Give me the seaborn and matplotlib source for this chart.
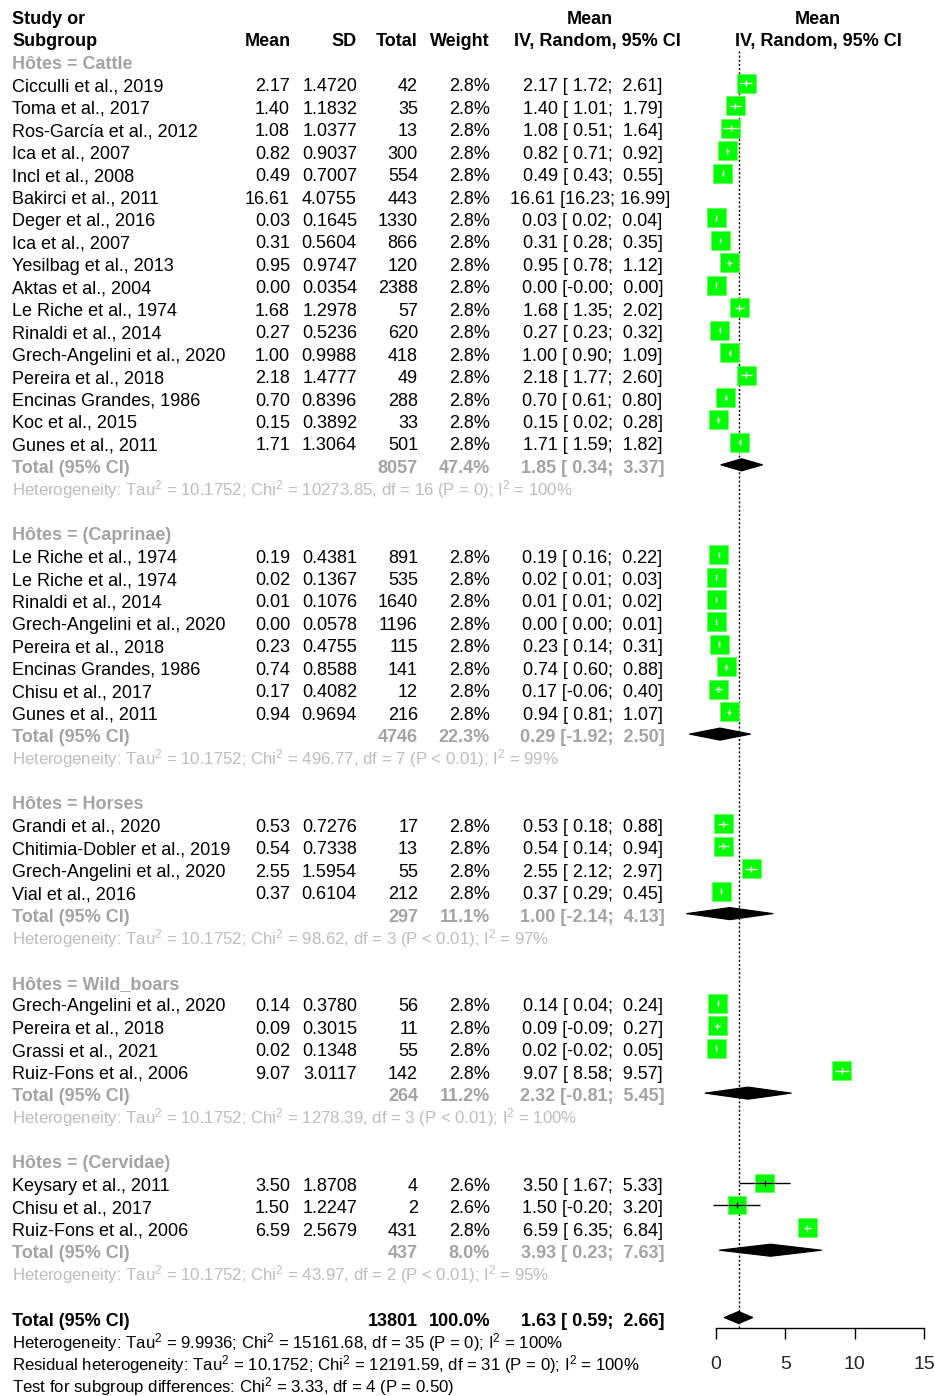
import numpy as np
import pandas as pd
import matplotlib
matplotlib.use("Agg")
import matplotlib.pyplot as plt
import seaborn as sns
from matplotlib.patches import Polygon

sns.set_theme(style="white")
plt.rcParams['font.family'] = ['Liberation Sans', 'DejaVu Sans']
plt.rcParams['mathtext.fontset'] = 'custom'
plt.rcParams['mathtext.rm'] = 'Liberation Sans'
plt.rcParams['mathtext.it'] = 'Liberation Sans:italic'
plt.rcParams['mathtext.bf'] = 'Liberation Sans:bold'
plt.rcParams['mathtext.default'] = 'regular'

# ---------------- data ----------------
groups = ['Cattle', '(Caprinae)', 'Horses', 'Wild_boars', '(Cervidae)']

study = ['Cicculli et al., 2019', 'Toma et al., 2017', 'Ros-García et al., 2012', 'Ica et al., 2007',
         'Incl et al., 2008', 'Bakirci et al., 2011', 'Deger et al., 2016', 'Ica et al., 2007',
         'Yesilbag et al., 2013', 'Aktas et al., 2004', 'Le Riche et al., 1974', 'Rinaldi et al., 2014',
         'Grech-Angelini et al., 2020', 'Pereira et al., 2018', 'Encinas Grandes, 1986', 'Koc et al., 2015',
         'Gunes et al., 2011',
         'Le Riche et al., 1974', 'Le Riche et al., 1974', 'Rinaldi et al., 2014', 'Grech-Angelini et al., 2020',
         'Pereira et al., 2018', 'Encinas Grandes, 1986', 'Chisu et al., 2017', 'Gunes et al., 2011',
         'Grandi et al., 2020', 'Chitimia-Dobler et al., 2019', 'Grech-Angelini et al., 2020', 'Vial et al., 2016',
         'Grech-Angelini et al., 2020', 'Pereira et al., 2018', 'Grassi et al., 2021', 'Ruiz-Fons et al., 2006',
         'Keysary et al., 2011', 'Chisu et al., 2017', 'Ruiz-Fons et al., 2006']
group = ['Cattle'] * 17 + ['(Caprinae)'] * 8 + ['Horses'] * 4 + ['Wild_boars'] * 4 + ['(Cervidae)'] * 3
mean = [2.17, 1.40, 1.08, 0.82, 0.49, 16.61, 0.03, 0.31, 0.95, 0.00, 1.68, 0.27, 1.00, 2.18, 0.70, 0.15, 1.71,
        0.19, 0.02, 0.01, 0.00, 0.23, 0.74, 0.17, 0.94,
        0.53, 0.54, 2.55, 0.37,
        0.14, 0.09, 0.02, 9.07,
        3.50, 1.50, 6.59]
sd = ['1.4720', '1.1832', '1.0377', '0.9037', '0.7007', '4.0755', '0.1645', '0.5604', '0.9747', '0.0354',
      '1.2978', '0.5236', '0.9988', '1.4777', '0.8396', '0.3892', '1.3064',
      '0.4381', '0.1367', '0.1076', '0.0578', '0.4755', '0.8588', '0.4082', '0.9694',
      '0.7276', '0.7338', '1.5954', '0.6104',
      '0.3780', '0.3015', '0.1348', '3.0117',
      '1.8708', '1.2247', '2.5679']
total = [42, 35, 13, 300, 554, 443, 1330, 866, 120, 2388, 57, 620, 418, 49, 288, 33, 501,
         891, 535, 1640, 1196, 115, 141, 12, 216,
         17, 13, 55, 212,
         56, 11, 55, 142,
         4, 2, 431]
weight = [2.8] * 33 + [2.6, 2.6, 2.8]
lower = [1.72, 1.01, 0.51, 0.71, 0.43, 16.23, 0.02, 0.28, 0.78, -0.0, 1.35, 0.23, 0.90, 1.77, 0.61, 0.02, 1.59,
         0.16, 0.01, 0.01, 0.00, 0.14, 0.60, -0.06, 0.81,
         0.18, 0.14, 2.12, 0.29,
         0.04, -0.09, -0.02, 8.58,
         1.67, -0.20, 6.35]
upper = [2.61, 1.79, 1.64, 0.92, 0.55, 16.99, 0.04, 0.35, 1.12, 0.00, 2.02, 0.32, 1.09, 2.60, 0.80, 0.28, 1.82,
         0.22, 0.03, 0.02, 0.01, 0.31, 0.88, 0.40, 1.07,
         0.88, 0.94, 2.97, 0.45,
         0.24, 0.27, 0.05, 9.57,
         5.33, 3.20, 6.84]

sub_total = [8057, 4746, 297, 264, 437]
sub_weight = [47.4, 22.3, 11.1, 11.2, 8.0]
sub_est = [1.85, 0.29, 1.00, 2.32, 3.93]
sub_lower = [0.34, -1.92, -2.14, -0.81, 0.23]
sub_upper = [3.37, 2.50, 4.13, 5.45, 7.63]
sub_het = [r'Heterogeneity: Tau$^2$ = 10.1752; Chi$^2$ = 10273.85, df = 16 (P = 0); I$^2$ = 100%',
           r'Heterogeneity: Tau$^2$ = 10.1752; Chi$^2$ = 496.77, df = 7 (P < 0.01); I$^2$ = 99%',
           r'Heterogeneity: Tau$^2$ = 10.1752; Chi$^2$ = 98.62, df = 3 (P < 0.01); I$^2$ = 97%',
           r'Heterogeneity: Tau$^2$ = 10.1752; Chi$^2$ = 1278.39, df = 3 (P < 0.01); I$^2$ = 100%',
           r'Heterogeneity: Tau$^2$ = 10.1752; Chi$^2$ = 43.97, df = 2 (P < 0.01); I$^2$ = 95%']

overall_total = 13801
overall_weight = 100.0
overall_est = 1.63
overall_lower = 0.59
overall_upper = 2.66
overall_text = [r'Heterogeneity: Tau$^2$ = 9.9936; Chi$^2$ = 15161.68, df = 35 (P = 0); I$^2$ = 100%',
                r'Residual heterogeneity: Tau$^2$ = 10.1752; Chi$^2$ = 12191.59, df = 31 (P = 0); I$^2$ = 100%',
                r'Test for subgroup differences: Chi$^2$ = 3.33, df = 4 (P = 0.50)']
x_ticks = [0, 5, 10, 15]

# ---------------- layout ----------------
W, H = 935, 1396
ROW0, ROWH = 60.9, 22.44          # pixel centre of row 0, row height


def row_of(px):
    return (px - ROW0) / ROWH


df = pd.DataFrame(dict(study=study, group=group, mean=mean, sd=sd, total=total,
                       weight=weight, lower=lower, upper=upper))

rows = []
hdr_rows, tot_rows, het_rows = [], [], []
r = 0
for g in groups:
    hdr_rows.append(r)
    r += 1
    n = int((df['group'] == g).sum())
    rows += list(range(r, r + n))
    r += n
    tot_rows.append(r)
    het_rows.append(r + 1)
    r += 3
overall_row = r
df['row'] = rows


def ci_str(e, lo, hi):
    return f"{e:5.2f} [{lo:5.2f}; {hi:5.2f}]"


fig = plt.figure(figsize=(W / 100, H / 100), dpi=100)

axt = fig.add_axes([0, 0, 1, 1])
axt.set_xlim(0, W)
axt.set_ylim(row_of(H), row_of(0))
axt.axis('off')

FS = 13
FS_HET = 12.1
GRAY = '#A3A3A3'
LGRAY = '#BDBDBD'
BL = 8.0 / ROWH
X_STUDY, X_MEAN, X_SD, X_TOT, X_W, X_CI = 12, 290, 357, 418, 490, 590


def txt(x, rr, s, ha='left', color='black', bold=False, fs=FS):
    axt.text(x, rr + BL, s, ha=ha, va='baseline', color=color, fontsize=fs,
             fontweight='bold' if bold else 'normal')


txt(X_STUDY, -2, 'Study or', bold=True)
txt(X_STUDY, -1, 'Subgroup', bold=True)
txt(X_MEAN + 1, -1, 'Mean', ha='right', bold=True)
txt(X_SD, -1, 'SD', ha='right', bold=True)
txt(X_TOT, -1, 'Total', ha='right', bold=True)
txt(X_W, -1, 'Weight', ha='right', bold=True)
txt(590, -2, 'Mean', ha='center', bold=True)
txt(597, -1, 'IV, Random, 95% CI', ha='center', bold=True)
txt(818, -2, 'Mean', ha='center', bold=True)
txt(818, -1, 'IV, Random, 95% CI', ha='center', bold=True)

for i, g in enumerate(groups):
    txt(X_STUDY, hdr_rows[i], f'Hôtes = {g}', color=GRAY, bold=True)
    rr = tot_rows[i]
    txt(X_STUDY, rr, 'Total (95% CI)', color=GRAY, bold=True)
    txt(X_TOT, rr, f'{sub_total[i]}', ha='right', color=GRAY, bold=True)
    txt(X_W, rr, f'{sub_weight[i]:.1f}%', ha='right', color=GRAY, bold=True)
    txt(X_CI, rr, ci_str(sub_est[i], sub_lower[i], sub_upper[i]), ha='center', color=GRAY, bold=True)
    txt(X_STUDY, het_rows[i], sub_het[i], color=LGRAY, fs=FS_HET)

for _, d in df.iterrows():
    rr = d['row']
    txt(X_STUDY, rr, d['study'])
    txt(X_MEAN, rr, f"{d['mean']:.2f}", ha='right')
    txt(X_SD, rr, d['sd'], ha='right')
    txt(X_TOT, rr, f"{d['total']}", ha='right')
    txt(X_W, rr, f"{d['weight']:.1f}%", ha='right')
    txt(X_CI, rr, ci_str(d['mean'], d['lower'], d['upper']), ha='center')

txt(X_STUDY, overall_row, 'Total (95% CI)', bold=True)
txt(X_TOT, overall_row, f'{overall_total}', ha='right', bold=True)
txt(X_W, overall_row, f'{overall_weight:.1f}%', ha='right', bold=True)
txt(X_CI, overall_row, ci_str(overall_est, overall_lower, overall_upper), ha='center', bold=True)
for k, s in enumerate(overall_text):
    txt(X_STUDY, overall_row + 1 + k, s, fs=FS_HET)

# ---------------- forest axes ----------------
AX_L, AX_R, AX_T, AX_B = 680, 935, 50, 1328
PX_PER_UNIT = (924 - 716) / 15.0
X0 = 716
axf = fig.add_axes([AX_L / W, 1 - AX_B / H, (AX_R - AX_L) / W, (AX_B - AX_T) / H])

axf.axvline(overall_est, color='black', linestyle=(0, (1.5, 1.5)), linewidth=1.0, zorder=0)

GREEN = '#00FF00'
side_px = 19.0 * np.sqrt(df['weight'] / 2.8)
sizes = (side_px * 0.72) ** 2
half_units = side_px / 2 / PX_PER_UNIT

axf.hlines(df['row'], df['lower'], df['upper'], color='black', linewidth=1.0, zorder=2)
sns.scatterplot(x=df['mean'], y=df['row'], marker='s', s=sizes, color=GREEN,
                edgecolor='#66FF66', linewidth=0.6, ax=axf, legend=False, zorder=3)
inner_lo = np.maximum(df['lower'], df['mean'] - half_units)
inner_hi = np.minimum(df['upper'], df['mean'] + half_units)
axf.hlines(df['row'], inner_lo, inner_hi, color='white', linewidth=1.0, zorder=4)
axf.vlines(df['mean'], df['row'] - 0.13, df['row'] + 0.13, color='white', linewidth=1.0, zorder=4)
wide = (df['upper'] - df['lower']) > 2 * half_units
axf.vlines(df['mean'][wide], df['row'][wide] - 0.13, df['row'][wide] + 0.13, color='black',
           linewidth=1.0, zorder=5)
axf.hlines(df['row'][wide], inner_lo[wide], inner_hi[wide], color='black', linewidth=1.0, zorder=5)

DH = 0.27
for i in range(len(groups)):
    rr = tot_rows[i]
    poly = Polygon([(sub_lower[i], rr), (sub_est[i], rr - DH), (sub_upper[i], rr), (sub_est[i], rr + DH)],
                   closed=True, facecolor='black', edgecolor='black', linewidth=0.8, zorder=3)
    axf.add_patch(poly)
poly = Polygon([(overall_lower, overall_row), (overall_est, overall_row - DH),
                (overall_upper, overall_row), (overall_est, overall_row + DH)],
               closed=True, facecolor='black', edgecolor='black', linewidth=0.8, zorder=3)
axf.add_patch(poly)

axf.set_xlim((AX_L - X0) / PX_PER_UNIT, (AX_R - X0) / PX_PER_UNIT)
axf.set_ylim(row_of(AX_B), row_of(AX_T))
axf.patch.set_alpha(0)
for sp in ['top', 'left', 'right']:
    axf.spines[sp].set_visible(False)
axf.spines['bottom'].set_bounds(x_ticks[0], x_ticks[-1])
axf.spines['bottom'].set_color('black')
axf.spines['bottom'].set_linewidth(1.0)
axf.set_xticks(x_ticks)
axf.set_xticklabels([str(t) for t in x_ticks])
axf.tick_params(axis='x', direction='out', length=8, width=1.0, color='black',
                pad=12, labelsize=14, bottom=True)
axf.set_yticks([])
axf.set_xlabel('')
axf.set_ylabel('')

fig.savefig('out.png', dpi=100)
